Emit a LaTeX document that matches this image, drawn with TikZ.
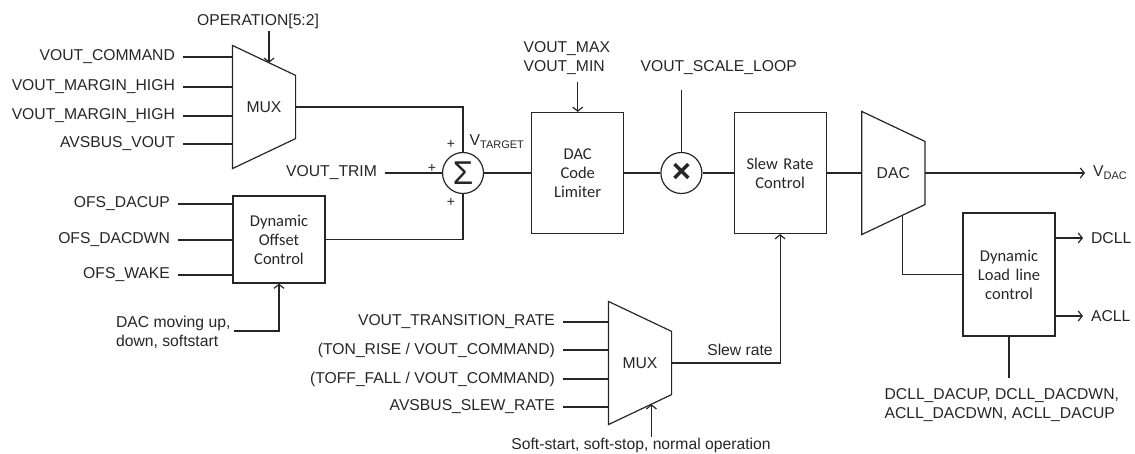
\documentclass[tikz,border=0pt]{standalone}
\usepackage{fontspec}
\setmainfont{Liberation Sans}
\newfontfamily\boxfont{Carlito}
\usetikzlibrary{positioning, calc, arrows.meta}
\newcommand{\drawmux}[1]{\draw (#1.north west) -- ([yshift=-30pt]#1.north east) -- ([yshift=30pt]#1.south east) -- (#1.south west) -- cycle;}

\begin{document}
\begin{tikzpicture}[x=1pt, y=-1pt, node distance=36pt, line width=1.2pt, color=black!85,
  font=\fontsize{15.7}{19}\selectfont]
  \tikzstyle{block} = [rectangle, draw, minimum width=92pt, text width=80pt, align=center, font=\boxfont\fontsize{16.5}{19}\selectfont]
  \tikzstyle{muxbox} = [rectangle, minimum width=62pt, minimum height=122pt, inner sep=0pt]
  \tikzstyle{junction} = [circle, draw, minimum size=41pt, inner sep=0pt]
  \tikzstyle{sig} = [inner xsep=7.5pt, inner ysep=2pt]
  \tikzstyle{arrow} = [-{Straight Barb[length=4pt,width=10pt]}]

  \useasboundingbox (0,0) rectangle (1135,454);

  % voltage reference path
  \node (mux1) [muxbox] at (264,107) {MUX};
  \drawmux{mux1}
  \node (sum) [junction] at (463,173) {\fontsize{33}{33}\selectfont\raisebox{-3pt}{Σ}};
  \node (limiter) [block, minimum height=121pt, right=47pt of sum] {DAC\\Code\\Limiter};
  \node (mult) [junction, right=36pt of limiter] {\bfseries\fontsize{33}{33}\selectfont\raisebox{-5pt}{×}};
  \node (slew) [block, minimum height=121pt, right=31pt of mult] {Slew Rate\\Control};
  \node (dac) [muxbox, right=35pt of slew] {DAC};
  \drawmux{dac}
  \node (ofsctl) [block, minimum height=87pt] at (279,239.5) {Dynamic\\Offset\\Control};
  \node (llctl) [block, minimum height=123pt] at (1009,274.5) {Dynamic\\Load line\\control};
  \node (mux2) [muxbox] at (640,363) {MUX};
  \drawmux{mux2}

  % inputs
  \foreach \txt/\yy [count=\i] in {{VOUT\_COMMAND}/57, {VOUT\_MARGIN\_HIGH}/87, {VOUT\_MARGIN\_HIGH}/116, {AVSBUS\_VOUT}/144} {
    \node (ina\i) [sig, anchor=east] at (183,\yy) {\txt};
    \draw (ina\i.east) -- (ina\i.east -| mux1.west);
  }
  \foreach \txt/\yy [count=\i] in {{OFS\_DACUP}/204, {OFS\_DACDWN}/240, {OFS\_WAKE}/275} {
    \node (inb\i) [sig, anchor=east] at (178,\yy) {\txt};
    \draw (inb\i.east) -- (inb\i.east -| ofsctl.west);
  }
  \foreach \txt/\yy [count=\i] in {{VOUT\_TRANSITION\_RATE}/322, {(TON\_RISE / VOUT\_COMMAND)}/350, {(TOFF\_FALL / VOUT\_COMMAND)}/379, {AVSBUS\_SLEW\_RATE}/407} {
    \node (inc\i) [sig, anchor=east] at (563,\yy) {\txt};
    \draw (inc\i.east) -- (inc\i.east -| mux2.west);
  }

  % labels
  \node (opsel) [inner sep=1pt] at (258,21) {OPERATION[5:2]};
  \node (trim) [sig, anchor=east] at (385,173) {VOUT\_TRIM};
  \node (vtgt) at (497,142) {V\textsubscript{TARGET}};
  \node (plus1) [font=\fontsize{14}{14}\selectfont] at (451,144) {+};
  \node (plus2) [font=\fontsize{14}{14}\selectfont] at (432,168) {+};
  \node (plus3) [font=\fontsize{14}{14}\selectfont] at (451,202) {+};
  \node (vlim) [sig, anchor=base west, align=left] at (515.5,71.6) {VOUT\_MAX\\VOUT\_MIN};
  \node (vscl) [sig, anchor=base west] at (632.5,71.6) {VOUT\_SCALE\_LOOP};
  \node (vdac) [sig, anchor=west] at (1085,173) {V\textsubscript{DAC}};
  \node (dcll) [sig, anchor=west] at (1083,238) {DCLL};
  \node (acll) [sig, anchor=west] at (1083,316) {ACLL};
  \node (llcfg) [inner sep=2pt, anchor=base west, align=left] at (882,418) {DCLL\_DACUP, DCLL\_DACDWN,\\ACLL\_DACDWN, ACLL\_DACUP};
  \node (dacmv) [inner sep=2pt, anchor=base east, align=left] at (233,346.6) {DAC moving up,\\down, softstart};
  \node (mode) at (641,445) {Soft-start, soft-stop, normal operation};
  \node (srlbl) at (740,350) {Slew rate};

  % free ends
  \coordinate (optip) at ($(mux1.north west)!0.58!([yshift=-30pt]mux1.north east)$);
  \coordinate (seltip) at ($(mux2.south west)!0.68!([yshift=30pt]mux2.south east)$);
  \coordinate (dactap) at ($(dac.south west)!0.64!([yshift=30pt]dac.south east)$);
  \coordinate (limtop) at ([yshift=30pt]limiter.north);
  \coordinate (scltop) at ([yshift=62pt]mult.north);
  \coordinate (dacev) at (234,331);
  \coordinate (llbot) at ([yshift=-41pt]llctl.south);

  % connectors
  \draw [arrow] (optip |- 0,31) -- (optip);
  \draw (mux1.east) -| (sum.north);
  \draw (trim.east) -- (sum.west);
  \draw (ofsctl.east) -| (sum.south);
  \draw [arrow] (dacev) -| (ofsctl.south);
  \draw (sum.east) -- (limiter.west);
  \draw [arrow] (limtop) -- (limiter.north);
  \draw (limiter.east) -- (mult.west);
  \draw (scltop) -- (mult.north);
  \draw (mult.east) -- (slew.west);
  \draw (slew.east) -- (dac.west);
  \draw [arrow] (dac.east) -- (vdac.west);
  \draw (dactap) |- (llctl.west);
  \draw [arrow] ([yshift=36.5pt]llctl.east) -- (dcll.west);
  \draw [arrow] ([yshift=-41.5pt]llctl.east) -- (acll.west);
  \draw (llctl.south) -- (llbot);
  \draw [arrow] (seltip |- 0,437) -- (seltip);
  \draw [arrow] (mux2.east) -| (slew.south);
\end{tikzpicture}
\end{document}
